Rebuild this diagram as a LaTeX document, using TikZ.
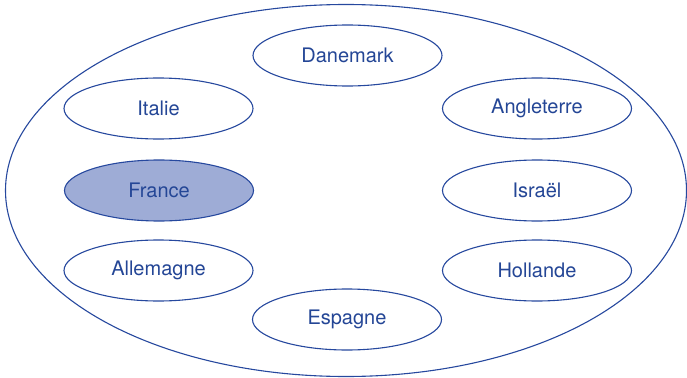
\documentclass[tikz,border=0pt]{standalone}
\usepackage{fontspec}
\setmainfont{TeX Gyre Heros}
\usetikzlibrary{shapes.geometric}
\definecolor{blue}{RGB}{38,72,158}
\definecolor{textblue}{RGB}{36,70,150}
\definecolor{lightblue}{RGB}{158,172,214}

\begin{document}
\begin{tikzpicture}[x=1pt,y=-1pt,
  pays/.style={ellipse,draw=blue,line width=1.1pt,fill=white,text=textblue,
    minimum width=189pt,minimum height=61pt,inner sep=0pt,font=\fontsize{20}{23}\selectfont}]
\useasboundingbox (0,0) rectangle (687,377);
\node[ellipse,draw=blue,line width=1.1pt,minimum width=681pt,minimum height=372pt,inner sep=0pt] (europe) at (346,190.5){};
\node[pays] (danemark) at (347.5,55.5){Danemark};
\node[pays] (italie) at (158.5,108.5){Italie};
\node[pays] (angleterre) at (537,108.5){Angleterre};
\node[pays,fill=lightblue] (france) at (159,190.5){France};
\node[pays] (israel) at (537,190.5){Israël};
\node[pays] (allemagne) at (158.5,270.5){Allemagne};
\node[pays] (hollande) at (537,270.5){Hollande};
\node[pays] (espagne) at (347,319.5){Espagne};
\end{tikzpicture}
\end{document}
